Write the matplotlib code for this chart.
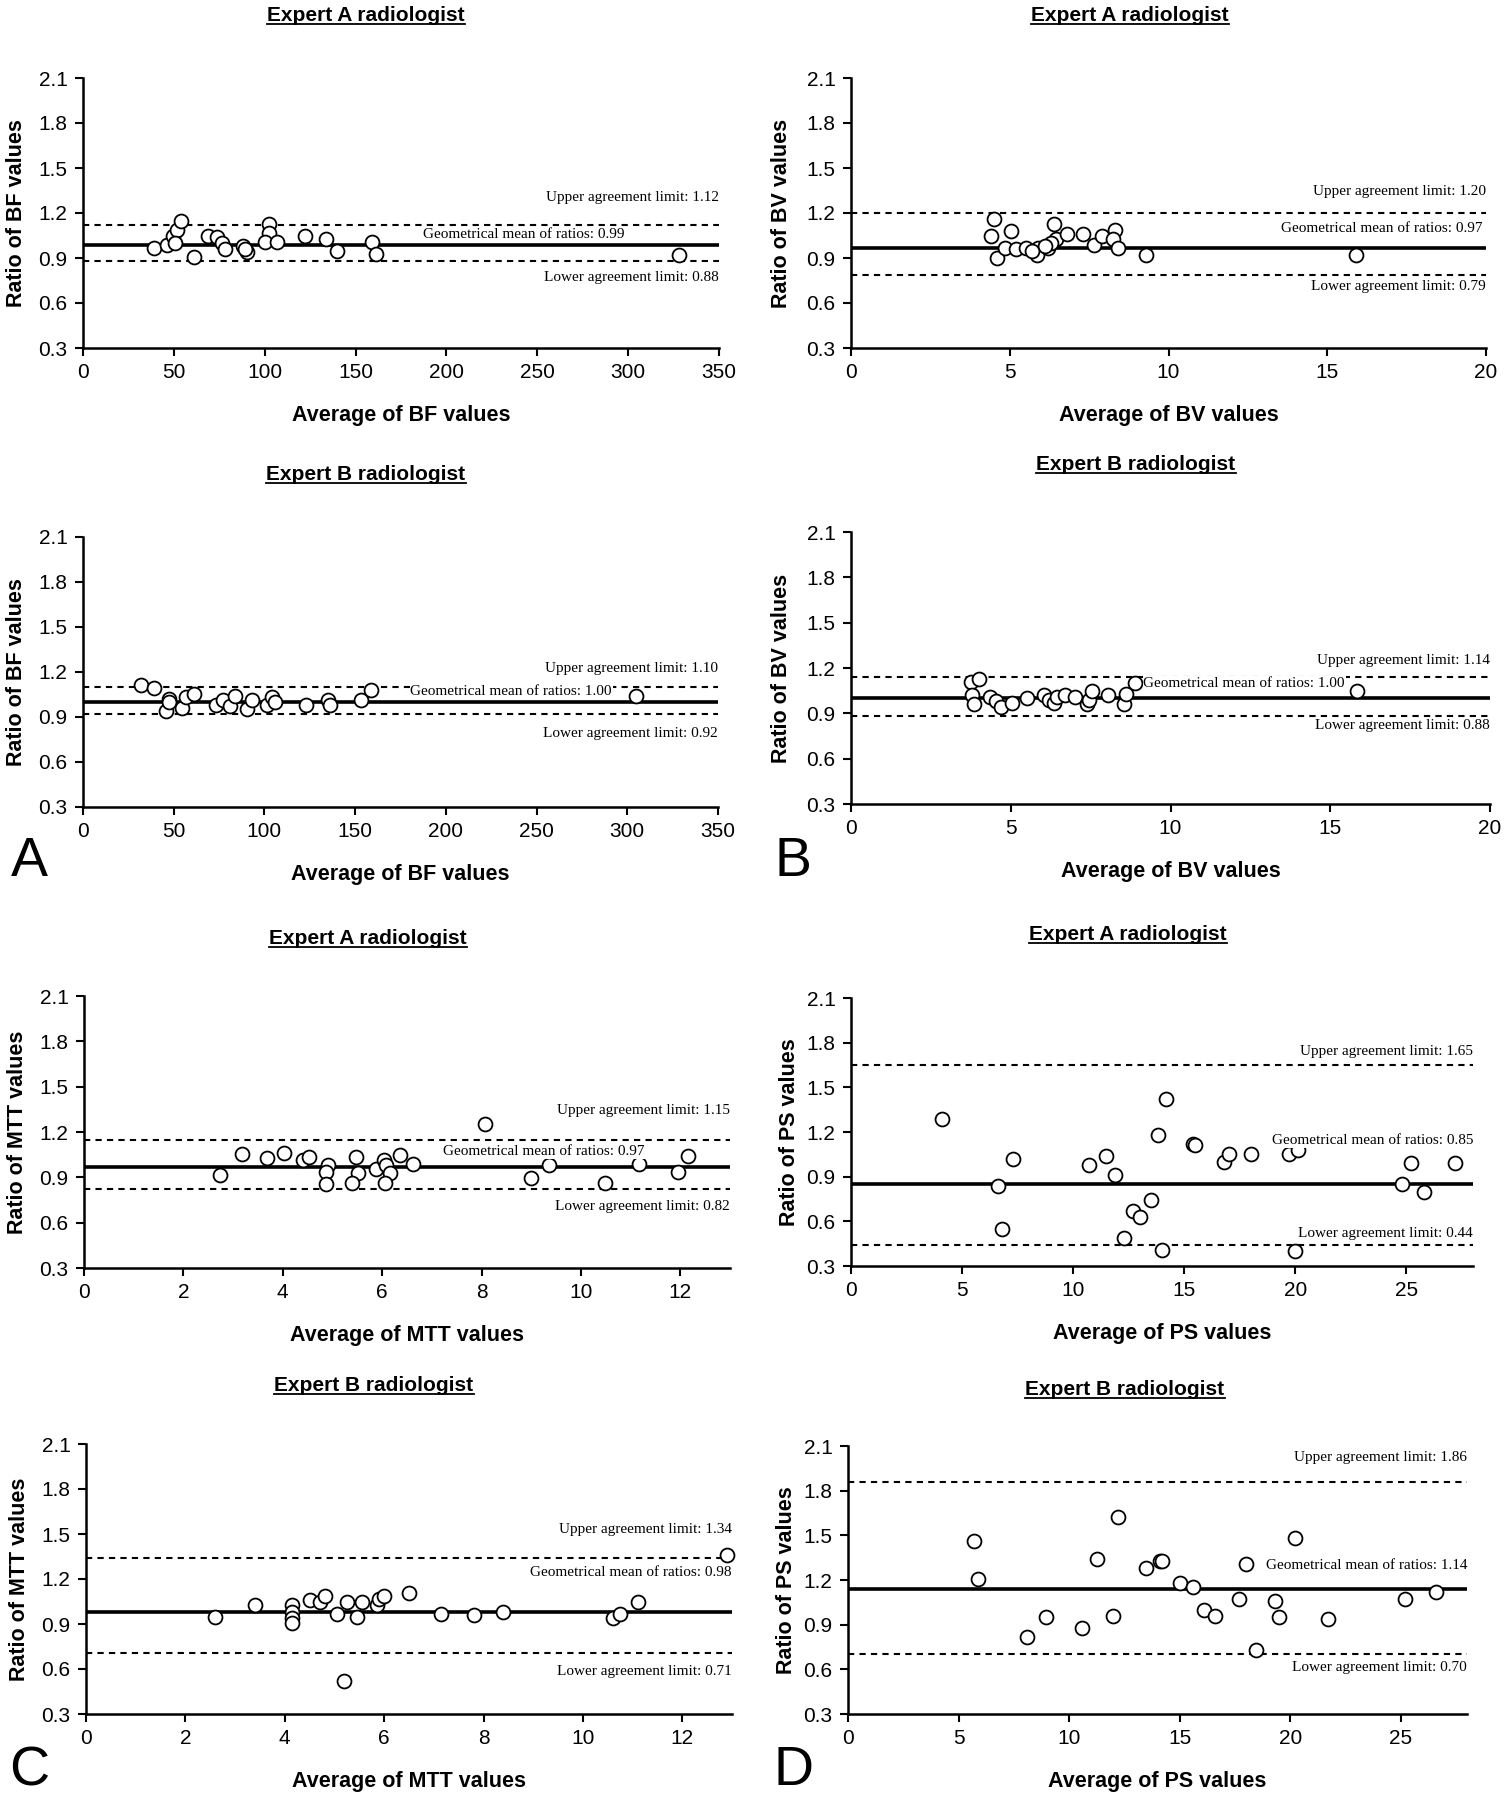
import matplotlib
matplotlib.use("Agg")
import matplotlib.pyplot as plt
from matplotlib.lines import Line2D

plt.rcParams["font.family"] = ["Liberation Sans", "DejaVu Sans"]

W, H = 1506, 1800

# ---- data ----
bf_a_x = [39, 46, 49.5, 52, 54, 50.5, 61, 69, 74, 76.5, 78, 88, 90, 89,
          102.5, 102.5, 100, 106.5, 122, 134, 140, 159, 161, 328]
bf_a_y = [0.97, 0.99, 1.05, 1.09, 1.15, 1.00, 0.91, 1.05, 1.04, 1.00, 0.96,
          0.98, 0.94, 0.96, 1.13, 1.07, 1.01, 1.01, 1.05, 1.03, 0.95, 1.01,
          0.93, 0.92]
bf_a_lim = [1.12, 0.99, 0.88]

bv_a_x = [4.5, 4.4, 4.6, 5.05, 4.85, 5.2, 5.5, 5.9, 5.85, 6.2, 6.4, 6.45,
          6.8, 7.3, 7.65, 7.9, 8.3, 8.25, 8.4, 9.3, 15.9, 6.3, 6.1, 5.7]
bv_a_y = [1.16, 1.05, 0.90, 1.08, 0.97, 0.96, 0.97, 0.97, 0.92, 0.97, 1.13,
          1.03, 1.06, 1.06, 0.99, 1.05, 1.09, 1.03, 0.97, 0.92, 0.92, 1.00,
          0.98, 0.95]
bv_a_lim = [1.20, 0.97, 0.79]

bf_b_x = [32, 39, 45.5, 47.5, 47.5, 54.5, 57, 61, 73.5, 77, 81, 84, 90.5,
          93, 101.5, 104, 106, 123, 135, 136, 153.5, 158.5, 305]
bf_b_y = [1.11, 1.09, 0.94, 1.02, 1.00, 0.96, 1.03, 1.05, 0.98, 1.01, 0.97,
          1.04, 0.95, 1.01, 0.98, 1.03, 1.00, 0.98, 1.01, 0.98, 1.01, 1.08,
          1.04]
bf_b_lim = [1.10, 1.00, 0.92]

bv_b_x = [3.75, 4.0, 3.8, 3.85, 4.35, 4.55, 4.7, 5.05, 5.5, 6.05, 6.2, 6.35,
          6.45, 6.7, 7.0, 7.4, 7.45, 7.55, 8.05, 8.55, 8.6, 8.9, 15.85]
bv_b_y = [1.11, 1.13, 1.02, 0.96, 1.01, 0.98, 0.94, 0.97, 1.00, 1.02, 0.99,
          0.97, 1.01, 1.02, 1.01, 0.96, 0.99, 1.05, 1.02, 0.96, 1.03, 1.10,
          1.05]
bv_b_lim = [1.14, 1.00, 0.88]

mtt_a_x = [2.74, 3.18, 3.68, 4.02, 4.41, 4.52, 4.91, 4.87, 4.87, 5.48, 5.51,
           5.39, 5.87, 6.04, 6.08, 6.16, 6.05, 6.35, 6.62, 8.06, 9.0, 9.36,
           10.48, 11.17, 11.96, 12.15]
mtt_a_y = [0.915, 1.053, 1.029, 1.064, 1.013, 1.035, 0.98, 0.937, 0.853,
           1.035, 0.926, 0.86, 0.954, 1.013, 0.98, 0.926, 0.86, 1.046, 0.991,
           1.25, 0.897, 0.98, 0.864, 0.991, 0.937, 1.042]
mtt_a_lim = [1.15, 0.97, 0.82]

ps_a_x = [4.1, 6.6, 6.8, 7.3, 10.7, 11.5, 11.9, 12.3, 12.7, 13.0, 13.5, 13.8,
          14.0, 14.2, 15.4, 15.5, 16.8, 17.0, 18.0, 19.7, 20.1, 20.0, 24.8,
          25.2, 25.8, 27.2]
ps_a_y = [1.29, 0.84, 0.55, 1.02, 0.98, 1.04, 0.91, 0.49, 0.67, 0.63, 0.74,
          1.18, 0.41, 1.42, 1.12, 1.11, 1.00, 1.05, 1.05, 1.05, 1.08, 0.40,
          0.85, 0.99, 0.80, 0.99]
ps_a_lim = [1.65, 0.85, 0.44]

mtt_b_x = [2.6, 3.4, 4.15, 4.15, 4.15, 4.15, 4.5, 4.7, 4.8, 5.05, 5.25, 5.2,
           5.45, 5.55, 5.85, 5.9, 6.0, 6.5, 7.15, 7.8, 8.4, 10.6, 10.75, 11.1,
           12.9]
mtt_b_y = [0.95, 1.03, 1.03, 0.98, 0.94, 0.91, 1.06, 1.05, 1.09, 0.97, 1.05,
           0.52, 0.95, 1.05, 1.03, 1.07, 1.09, 1.11, 0.97, 0.96, 0.98, 0.94,
           0.97, 1.05, 1.36]
mtt_b_lim = [1.34, 0.98, 0.71]

ps_b_x = [5.7, 5.9, 8.1, 8.95, 10.6, 11.25, 12.0, 12.2, 13.5, 14.1, 14.2,
          15.0, 15.6, 16.1, 16.6, 17.7, 18.0, 18.45, 19.3, 19.5, 20.2, 21.7,
          25.2, 26.6]
ps_b_y = [1.46, 1.21, 0.82, 0.95, 0.88, 1.34, 0.96, 1.62, 1.28, 1.33, 1.33,
          1.18, 1.15, 1.00, 0.96, 1.07, 1.31, 0.73, 1.06, 0.95, 1.48, 0.94,
          1.07, 1.12]
ps_b_lim = [1.86, 1.14, 0.70]

y_ticks = [0.3, 0.6, 0.9, 1.2, 1.5, 1.8, 2.1]

# ---- layout ----
# (name, x, y, limits, box px [l, t, r, b], xmax, xstep, title, title xy px,
#  ylabel x offset px, label y positions [upper, mean, lower], mean label right)
panels = [
    ("BF", bf_a_x, bf_a_y, bf_a_lim, [83, 78, 719, 348], 350, 50,
     "Expert A radiologist", (366, 21), 56, [1.30, 1.06, 0.77], 0.852),
    ("BV", bv_a_x, bv_a_y, bv_a_lim, [851, 78, 1486, 348], 20, 5,
     "Expert A radiologist", (1130, 21), 59, [1.34, 1.10, 0.71], 0.995),
    ("BF", bf_b_x, bf_b_y, bf_b_lim, [83, 537, 718, 807], 350, 50,
     "Expert B radiologist", (366, 480), 56, [1.22, 1.07, 0.79], 0.833),
    ("BV", bv_b_x, bv_b_y, bv_b_lim, [851, 532, 1490, 804], 20, 5,
     "Expert B radiologist", (1136, 470), 59, [1.25, 1.10, 0.82], 0.773),
    ("MTT", mtt_a_x, mtt_a_y, mtt_a_lim, [84, 996, 730, 1268], 13, 2,
     "Expert A radiologist", (368, 944), 56, [1.34, 1.07, 0.71], 0.867),
    ("PS", ps_a_x, ps_a_y, ps_a_lim, [851, 998, 1473, 1266], 28, 5,
     "Expert A radiologist", (1128, 940), 51, [1.74, 1.14, 0.52], 1.0),
    ("MTT", mtt_b_x, mtt_b_y, mtt_b_lim, [86, 1444, 732, 1714], 13, 2,
     "Expert B radiologist", (374, 1391), 56, [1.53, 1.24, 0.58], 1.0),
    ("PS", ps_b_x, ps_b_y, ps_b_lim, [848, 1446, 1467, 1714], 28, 5,
     "Expert B radiologist", (1125, 1395), 51, [2.02, 1.30, 0.61], 1.0),
]

letters = [("A", 29, 862), ("B", 793, 862), ("C", 29, 1771), ("D", 793, 1771)]

fig = plt.figure(figsize=(W / 100, H / 100), dpi=100)
ann_font = ["Liberation Serif", "DejaVu Serif"]
titles = []

for (name, xs, ys, lim, box, xmax, xstep, title, txy, ylo, lab_y,
     mean_right) in panels:
    l, t, r, b = box
    ax = fig.add_axes([l / W, 1 - b / H, (r - l) / W, (b - t) / H])
    up, mean, low = lim
    ax.axhline(up, color="black", lw=1.5, ls=(0, (3, 2.5)), zorder=2)
    ax.axhline(low, color="black", lw=1.5, ls=(0, (3, 2.5)), zorder=2)
    ax.axhline(mean, color="black", lw=2.6, zorder=2)
    ax.plot(xs, ys, "o", ms=10, mfc="white", mec="black", mew=1.3,
            zorder=3, clip_on=False)

    bb = dict(facecolor="white", edgecolor="none", pad=0.5)
    ax.text(1.0, lab_y[0], f"Upper agreement limit: {up:.2f}",
            transform=ax.get_yaxis_transform(), ha="right", va="center",
            fontsize=11, family=ann_font, bbox=bb, zorder=4)
    ax.text(mean_right, lab_y[1], f"Geometrical mean of ratios: {mean:.2f}",
            transform=ax.get_yaxis_transform(), ha="right", va="center",
            fontsize=11, family=ann_font, bbox=bb, zorder=4)
    ax.text(1.0, lab_y[2], f"Lower agreement limit: {low:.2f}",
            transform=ax.get_yaxis_transform(), ha="right", va="center",
            fontsize=11, family=ann_font, bbox=bb, zorder=4)

    ax.set_xlim(0, xmax)
    ax.set_ylim(0.3, 2.1)
    ax.set_xticks(range(0, xmax + 1, xstep))
    ax.set_yticks(y_ticks)
    ax.set_yticklabels([f"{v:.1f}" for v in y_ticks])
    for s in ["top", "right"]:
        ax.spines[s].set_visible(False)
    for s in ["left", "bottom"]:
        ax.spines[s].set_linewidth(1.8)
    ax.tick_params(length=6, width=1.5, labelsize=15, pad=5)

    ax.set_xlabel(f"Average of {name} values", fontsize=15.5,
                  fontweight="bold")
    ax.xaxis.set_label_coords(0.5, -57 / (b - t))
    ax.set_ylabel(f"Ratio of {name} values", fontsize=15.5,
                  fontweight="bold")
    ax.yaxis.set_label_coords(-ylo / (r - l), 0.5)

    tt = fig.text(txy[0] / W, 1 - txy[1] / H, title, ha="center",
                  va="baseline", fontsize=15, fontweight="bold")
    titles.append((tt, txy[1]))

for lab, x, y in letters:
    fig.text(x / W, 1 - y / H, lab, ha="center", va="center", fontsize=40)

# underline the panel titles
fig.canvas.draw()
rend = fig.canvas.get_renderer()
for tt, base in titles:
    ext = tt.get_window_extent(rend)
    yy = 1 - (base + 3) / H
    fig.add_artist(Line2D([ext.x0 / W, ext.x1 / W], [yy, yy],
                          transform=fig.transFigure, color="black", lw=1.3))

fig.savefig("out.png", dpi=100)
